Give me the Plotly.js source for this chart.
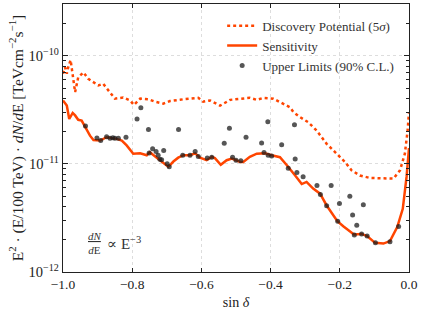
<!DOCTYPE html>
<html><head><meta charset="utf-8">
<script src="https://cdn.plot.ly/plotly-3.0.1.min.js"></script>
<style>html,body{margin:0;padding:0;background:#fff;}#chart{width:422px;height:315px;}</style>
</head><body><div id="chart"></div>
<script>
// Sensitivity (solid)
var sensX = [-1.0,-0.989,-0.982,-0.972,-0.965,-0.956,-0.946,-0.936,-0.922,-0.912,-0.893,-0.874,-0.845,-0.830,-0.816,-0.797,-0.777,-0.758,-0.749,-0.729,-0.710,-0.696,-0.690,-0.681,-0.667,-0.652,-0.633,-0.618,-0.604,-0.585,-0.570,-0.561,-0.544,-0.527,-0.512,-0.488,-0.479,-0.460,-0.440,-0.416,-0.397,-0.373,-0.353,-0.344,-0.329,-0.310,-0.296,-0.277,-0.257,-0.238,-0.207,-0.190,-0.159,-0.137,-0.121,-0.098,-0.074,-0.055,-0.034,-0.018,-0.007,0.0];
var sensY = [3.85e-11,3.46e-11,2.6e-11,2.95e-11,2.8e-11,2.55e-11,2.51e-11,2.2e-11,1.82e-11,1.66e-11,1.64e-11,1.76e-11,1.70e-11,1.64e-11,1.48e-11,1.24e-11,1.25e-11,1.20e-11,1.28e-11,1.14e-11,1.01e-11,9.4e-12,9.8e-12,1.05e-11,1.14e-11,1.2e-11,1.2e-11,1.25e-11,1.14e-11,1.08e-11,1.16e-11,1.13e-11,9.8e-12,1.08e-11,1.12e-11,1.04e-11,1.04e-11,1.16e-11,1.24e-11,1.25e-11,1.2e-11,1.15e-11,9.7e-12,9.0e-12,7.8e-12,6.5e-12,6.8e-12,5.9e-12,5.3e-12,4.12e-12,2.95e-12,2.65e-12,2.22e-12,2.25e-12,2.15e-12,1.86e-12,1.83e-12,1.93e-12,2.6e-12,3.84e-12,7.6e-12,1.4e-11];
// Discovery potential (dotted)
var discX = [-1.0,-0.994,-0.989,-0.985,-0.978,-0.972,-0.965,-0.956,-0.941,-0.927,-0.912,-0.898,-0.884,-0.864,-0.850,-0.826,-0.806,-0.795,-0.777,-0.753,-0.734,-0.710,-0.691,-0.662,-0.652,-0.609,-0.595,-0.575,-0.546,-0.517,-0.460,-0.440,-0.421,-0.392,-0.363,-0.344,-0.334,-0.315,-0.291,-0.267,-0.238,-0.209,-0.185,-0.166,-0.142,-0.113,-0.074,-0.045,-0.026,-0.012,-0.004,0.0];
var discY = [6.8e-11,7.8e-11,6.8e-11,7.8e-11,9.1e-11,6.8e-11,4.6e-11,6.3e-11,7.0e-11,6.1e-11,5.7e-11,5.3e-11,5.5e-11,4.6e-11,4.0e-11,4.1e-11,3.85e-11,3.5e-11,4.0e-11,3.95e-11,3.75e-11,3.6e-11,3.8e-11,3.9e-11,3.95e-11,4.07e-11,3.75e-11,3.85e-11,3.45e-11,3.9e-11,4.07e-11,3.9e-11,4.07e-11,4.0e-11,3.6e-11,3.33e-11,3.0e-11,2.7e-11,2.42e-11,2.03e-11,1.53e-11,1.24e-11,1.04e-11,8.7e-12,7.8e-12,7.4e-12,7.4e-12,7.3e-12,8.7e-12,1.24e-11,2.03e-11,3.0e-11];
// Upper limits (points)
var ulX = [-0.935,-0.902,-0.891,-0.874,-0.864,-0.856,-0.850,-0.840,-0.818,-0.786,-0.775,-0.753,-0.751,-0.741,-0.731,-0.725,-0.720,-0.715,-0.709,-0.699,-0.693,-0.666,-0.654,-0.633,-0.618,-0.609,-0.583,-0.570,-0.534,-0.519,-0.510,-0.500,-0.486,-0.471,-0.426,-0.419,-0.408,-0.407,-0.397,-0.368,-0.349,-0.331,-0.329,-0.324,-0.306,-0.266,-0.256,-0.238,-0.225,-0.206,-0.201,-0.171,-0.163,-0.158,-0.151,-0.137,-0.132,-0.121,-0.097,-0.055,-0.030];
var ulY = [2.23e-11,1.73e-11,1.64e-11,1.78e-11,1.72e-11,1.74e-11,1.72e-11,1.72e-11,1.76e-11,2.6e-11,3.3e-11,2.07e-11,1.26e-11,1.38e-11,1.3e-11,1.2e-11,1.1e-11,1.09e-11,1.33e-11,1.0e-11,9.4e-12,2.07e-11,1.2e-11,1.2e-11,1.3e-11,1.17e-11,1.13e-11,1.15e-11,1.55e-11,2.13e-11,1.15e-11,1.08e-11,1.07e-11,1.76e-11,1.56e-11,1.27e-11,2.45e-11,1.2e-11,1.18e-11,1.5e-11,9.1e-12,2.29e-11,1.11e-11,8.3e-12,7.6e-12,6.3e-12,5.2e-12,4.1e-12,6.3e-12,2.95e-12,4.3e-12,5.0e-12,3.37e-12,2.2e-12,2.7e-12,2.25e-12,4.18e-12,2.15e-12,1.86e-12,1.9e-12,2.63e-12];
var yTickVals = [1e-12,1e-11,1e-10];
var yTickText = ['10<sup>−12</sup>','10<sup>−11</sup>','10<sup>−10</sup>'];
var xTickVals = [-1.0,-0.8,-0.6,-0.4,-0.2,0.0];
var xTickText = ['−1.0','−0.8','−0.6','−0.4','−0.2','0.0'];

var orange = '#ff4500';
var FONT = 'Liberation Serif, DejaVu Serif, serif';
var traces = [
  {x: discX, y: discY, mode:'lines', name:'Discovery Potential (5<i>σ</i>)', line:{color:orange, width:2.5, dash:'dot'}},
  {x: sensX, y: sensY, mode:'lines', name:'Sensitivity', line:{color:orange, width:2.5}},
  {x: ulX, y: ulY, mode:'markers', name:'Upper Limits (90% C.L.)', marker:{color:'rgba(30,30,30,0.75)', size:5}}
];
var layout = {
  width:422, height:315,
  margin:{l:63, r:13, t:4, b:43},
  paper_bgcolor:'#fff', plot_bgcolor:'#fff',
  font:{family:FONT, size:13, color:'#222'},
  showlegend:true,
  legend:{x:0.46, y:0.975, xanchor:'left', yanchor:'top', bgcolor:'rgba(0,0,0,0)', borderwidth:0, font:{size:13, family:FONT, color:'#333'}, tracegroupgap:0, itemwidth:30},
  xaxis:{range:[-1,0], tickvals:xTickVals, ticktext:xTickText, ticks:'inside', ticklen:4, tickcolor:'#222',
    showline:true, linecolor:'#222', linewidth:1.2, mirror:'allticks', zeroline:false,
    showgrid:true, gridcolor:'#d4d4d4', griddash:'dot', gridwidth:0.8,
    tickfont:{size:13.5}, title:{text:'sin <i>δ</i>', font:{size:14}, standoff:5}},
  yaxis:{type:'log', range:[-12,-9.523], tickvals:yTickVals, ticktext:yTickText, ticks:'inside', ticklen:5, tickcolor:'#222',
    showline:true, linecolor:'#222', linewidth:1.2, mirror:'allticks', zeroline:false,
    showgrid:true, gridcolor:'#d4d4d4', griddash:'dot', gridwidth:0.8,
    minor:{ticks:'inside', ticklen:3, tickcolor:'#222', dtick:'D1', showgrid:false},
    tickfont:{size:14.5},
    title:{text:'E<sup>2</sup> · (E/100 TeV) · <i>dN</i>/<i>d</i>E [TeVcm<sup>−2</sup>s<sup>−1</sup>]', font:{size:15.5}, standoff:1}},
  annotations:[
    {xref:'paper', yref:'paper', x:0.092, y:0.11, xanchor:'center', yanchor:'middle', showarrow:false,
     text:'<i><u>dN</u></i><br><i>d</i>E', font:{size:11, family:FONT, color:'#333'}},
    {xref:'paper', yref:'paper', x:0.122, y:0.11, xanchor:'left', yanchor:'middle', showarrow:false,
     text:'∝ E<sup>−3</sup>', font:{size:15, family:FONT, color:'#333'}}
  ]
};
Plotly.newPlot('chart', traces, layout, {staticPlot:true, displayModeBar:false});
</script>
</body></html>
